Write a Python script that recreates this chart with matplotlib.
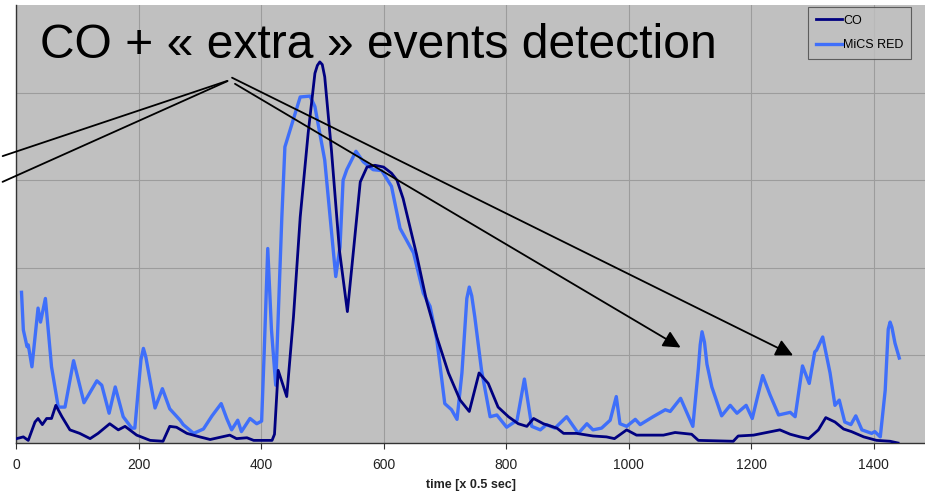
import matplotlib
matplotlib.use("Agg")
import matplotlib.pyplot as plt

# --- Datos (tiempo en unidades de 0.5 s) ---
CO_X = [1, 12, 20, 31, 36, 43, 50, 58, 65, 75, 88, 104, 121, 134, 153, 167, 178, 197,
        219, 240, 251, 262, 279, 300, 317, 349, 360, 377, 388, 418, 422, 428, 442, 453,
        464, 477, 488, 492, 496, 500, 504, 515, 528, 541, 551, 562, 573, 586, 600, 613,
        622, 632, 643, 654, 670, 687, 706, 725, 740, 756, 771, 787, 804, 820, 834, 845,
        861, 883, 894, 915, 942, 964, 977, 997, 1013, 1057, 1076, 1103, 1114, 1171, 1179,
        1204, 1247, 1264, 1280, 1294, 1310, 1322, 1337, 1351, 1364, 1384, 1405, 1427, 1440]
CO_Y = [0.05, 0.07, 0.03, 0.24, 0.28, 0.21, 0.28, 0.28, 0.43, 0.30, 0.15, 0.11, 0.05, 0.11,
        0.22, 0.15, 0.19, 0.09, 0.03, 0.02, 0.19, 0.18, 0.11, 0.07, 0.04, 0.09, 0.05, 0.06,
        0.03, 0.03, 0.10, 0.83, 0.53, 1.44, 2.58, 3.54, 4.22, 4.31, 4.35, 4.32, 4.18, 3.34,
        2.20, 1.50, 2.20, 2.98, 3.15, 3.17, 3.15, 3.08, 3.00, 2.79, 2.47, 2.15, 1.63, 1.21,
        0.80, 0.49, 0.36, 0.80, 0.68, 0.41, 0.30, 0.22, 0.19, 0.28, 0.22, 0.17, 0.11, 0.11,
        0.08, 0.07, 0.05, 0.15, 0.09, 0.09, 0.12, 0.10, 0.03, 0.02, 0.08, 0.09, 0.15, 0.10,
        0.07, 0.05, 0.15, 0.29, 0.24, 0.16, 0.13, 0.07, 0.03, 0.02, 0.00]

MICS_X = [9, 12, 18, 20, 26, 36, 40, 48, 58, 69, 80, 94, 111, 132, 140, 152, 162, 175,
          189, 194, 204, 208, 212, 227, 239, 251, 268, 273, 290, 306, 320, 335, 344, 352,
          362, 368, 382, 393, 401, 405, 411, 417, 424, 434, 439, 450, 464, 480, 488, 504,
          522, 529, 534, 540, 555, 567, 583, 597, 613, 627, 649, 665, 676, 687, 700, 711,
          720, 728, 736, 740, 744, 749, 760, 774, 785, 801, 818, 830, 842, 856, 866, 880,
          899, 918, 932, 942, 956, 970, 980, 986, 997, 1011, 1019, 1040, 1060, 1068, 1085,
          1105, 1114, 1117, 1120, 1124, 1128, 1136, 1152, 1166, 1177, 1192, 1202, 1219, 1231,
          1245, 1264, 1272, 1284, 1295, 1304, 1307, 1317, 1329, 1337, 1344, 1353, 1363,
          1371, 1381, 1397, 1402, 1411, 1419, 1424, 1427, 1430, 1435, 1442]
MICS_Y = [1.72, 1.29, 1.10, 1.12, 0.87, 1.54, 1.38, 1.65, 0.87, 0.41, 0.41, 0.94, 0.46,
          0.71, 0.66, 0.34, 0.64, 0.30, 0.17, 0.17, 0.95, 1.08, 0.98, 0.40, 0.62, 0.39,
          0.26, 0.21, 0.11, 0.16, 0.31, 0.45, 0.28, 0.15, 0.26, 0.13, 0.28, 0.22, 0.25,
          1.00, 2.22, 1.30, 0.66, 2.58, 3.38, 3.63, 3.95, 3.96, 3.84, 3.23, 1.90, 2.24,
          3.00, 3.12, 3.33, 3.21, 3.12, 3.11, 2.93, 2.45, 2.17, 1.71, 1.56, 1.18, 0.45,
          0.38, 0.27, 0.80, 1.65, 1.78, 1.68, 1.44, 0.83, 0.30, 0.32, 0.18, 0.26, 0.73,
          0.19, 0.15, 0.21, 0.17, 0.30, 0.11, 0.22, 0.15, 0.17, 0.26, 0.53, 0.22, 0.19,
          0.27, 0.21, 0.30, 0.38, 0.36, 0.51, 0.19, 0.85, 1.12, 1.27, 1.15, 0.90, 0.64, 0.31,
          0.43, 0.34, 0.43, 0.28, 0.77, 0.55, 0.32, 0.35, 0.30, 0.88, 0.68, 1.04, 1.06,
          1.21, 0.80, 0.43, 0.49, 0.24, 0.21, 0.31, 0.15, 0.11, 0.13, 0.07, 0.60, 1.30,
          1.38, 1.32, 1.14, 0.97]

X_TICKS = [0, 200, 400, 600, 800, 1000, 1200, 1400]
TITLE = "CO + « extra » events detection"
X_LABEL = "time [x 0.5 sec]"

# --- Estilo ---
CO_COLOR = "#000080"
MICS_COLOR = "#3F6FFA"
BG_COLOR = "#C0C0C0"
GRID_COLOR = "#9C9C9C"

plt.rcParams['font.family'] = ['Liberation Sans', 'DejaVu Sans']


def main():
    fig = plt.figure(figsize=(9.25, 4.93), dpi=100)
    ax = fig.add_axes([0.0173, 0.1014, 0.9827, 0.8885])
    ax.set_facecolor(BG_COLOR)

    ax.plot(CO_X, CO_Y, color=CO_COLOR, lw=2.0, label="CO", zorder=3)
    ax.plot(MICS_X, MICS_Y, color=MICS_COLOR, lw=2.4, label="MiCS RED", zorder=2)

    ax.set_xlim(0, 1484)
    ax.set_ylim(0, 5)
    ax.set_xticks(X_TICKS)
    ax.set_yticks([1, 2, 3, 4])
    ax.tick_params(axis='y', left=False, labelleft=False)
    ax.tick_params(axis='x', length=4, width=0.8, colors='#333333', labelsize=10,
                   labelcolor='#222222', pad=7)
    ax.grid(True, color=GRID_COLOR, lw=0.8, zorder=0)
    ax.set_axisbelow(True)
    for s in ['top', 'right']:
        ax.spines[s].set_visible(False)
    for s in ['left', 'bottom']:
        ax.spines[s].set_color('#333333')
        ax.spines[s].set_linewidth(1.0)

    ax.set_xlabel(X_LABEL, fontsize=9, fontweight='bold', color='#222222', labelpad=5)

    # Título dentro del área del gráfico
    fig.text(40 / 925, 1 - 58 / 493, TITLE, fontsize=34.6, color='black',
             ha='left', va='baseline')

    # Líneas y flechas
    for x0, y0 in [(-26.1, 3.265), (-26.1, 2.968)]:
        ax.annotate("", xy=(349.4, 4.144), xytext=(x0, y0),
                    arrowprops=dict(arrowstyle='-', color='black', lw=1.3),
                    annotation_clip=False)
    ax.annotate("", xy=(1085, 1.09), xytext=(357.5, 4.10),
                arrowprops=dict(arrowstyle='-|>', color='black', lw=1.3,
                                mutation_scale=26, shrinkA=0, shrinkB=0))
    ax.annotate("", xy=(1268.6, 1.00), xytext=(352.7, 4.17),
                arrowprops=dict(arrowstyle='-|>', color='black', lw=1.3,
                                mutation_scale=26, shrinkA=0, shrinkB=0))

    leg = ax.legend(loc='upper left', bbox_to_anchor=(808 / 925, 1 - 7 / 493),
                    bbox_transform=fig.transFigure, fontsize=9, frameon=True,
                    fancybox=False, handlelength=2.1, handletextpad=0.1,
                    borderpad=0.6, labelspacing=1.0, borderaxespad=0)
    leg.get_frame().set_facecolor(BG_COLOR)
    leg.get_frame().set_edgecolor('#444444')
    leg.get_frame().set_linewidth(0.8)

    fig.savefig("out.png", dpi=100)
    plt.close(fig)


if __name__ == "__main__":
    main()
